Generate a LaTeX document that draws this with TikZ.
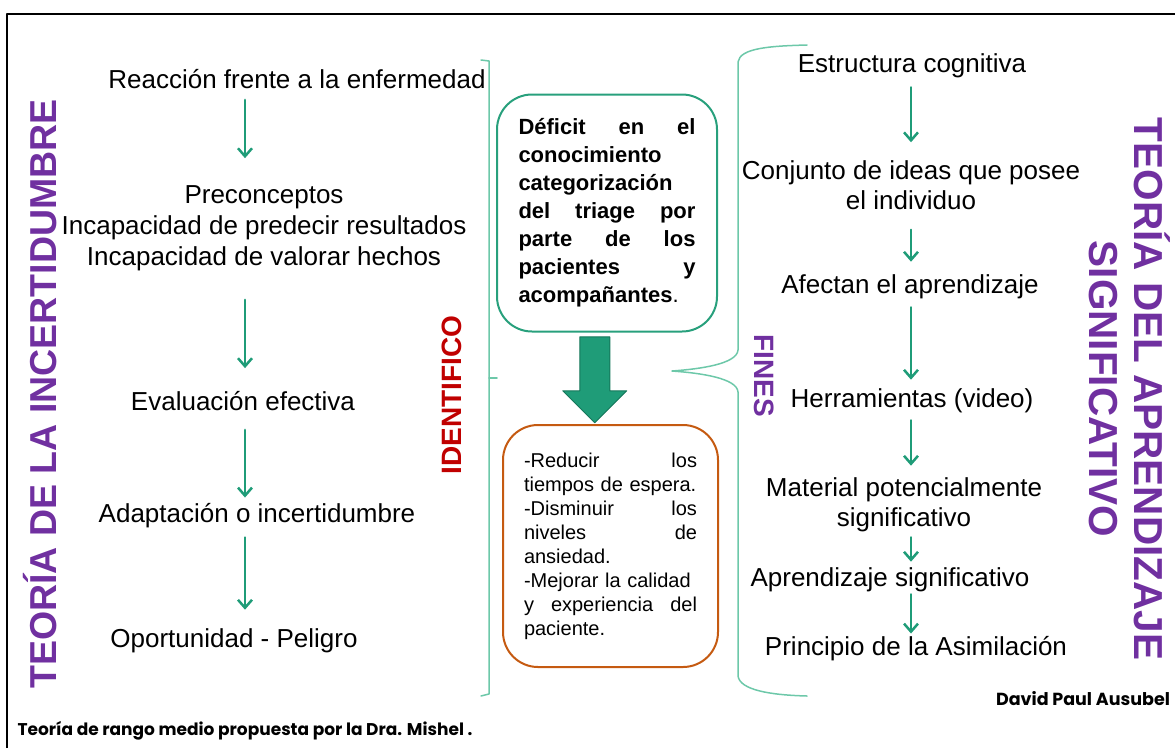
\documentclass[tikz,border=0pt]{standalone}
\usepackage{fontspec}
\setmainfont{Liberation Sans}
\newfontfamily\firma{Poppins}
\usepackage{tikz}
\usetikzlibrary{arrows.meta}
\usetikzlibrary{shapes.arrows}
\usetikzlibrary{calc}
\definecolor{morado}{HTML}{7030A0}
\definecolor{rojo}{HTML}{C00000}
\definecolor{verdeF}{HTML}{1F9C78}
\definecolor{verdeC}{HTML}{6DC8A9}
\definecolor{verdeB}{HTML}{28A07C}
\definecolor{verdeD}{HTML}{15775A}
\definecolor{naranja}{HTML}{C55A11}
\newcommand{\linea}[1]{\makebox[\linewidth][l]{#1}}

\begin{document}
\begin{tikzpicture}[line cap=round,line join=round,>={Straight Barb[length=8pt,width=14pt]},x=1pt,y=-1pt,
  texto/.style={inner sep=0pt,font=\fontsize{26}{31}\selectfont,align=center},
  textoR/.style={inner sep=0pt,font=\fontsize{26}{30}\selectfont,align=center},
  flecha/.style={->,color=verdeF,line width=2.5pt},
  titulo/.style={inner sep=0pt,font=\fontsize{37.5}{45}\selectfont\bfseries,color=morado,align=center},
  etiqueta/.style={inner sep=0pt,font=\fontsize{28}{30}\selectfont\bfseries},
  llave/.style={color=verdeC,line width=1.5pt}]

\useasboundingbox (0,0) rectangle (1175,748);
\draw[line width=2.5pt,line cap=butt] (7,748) -- (7,14) -- (1175,14);

% teoria de la incertidumbre
\node[titulo,rotate=90] (tit1) at (40,394) {TEORÍA DE LA INCERTIDUMBRE};
\coordinate (colL) at (245,0);
\node[texto] (l1) at (297,79) {Reacción frente a la enfermedad};
\node[texto] (l2) at (264,228) {Preconceptos\\Incapacidad de predecir resultados\\Incapacidad de valorar hechos};
\node[texto] (l3) at (243,401) {Evaluación efectiva};
\node[texto] (l4) at (257,516) {Adaptación o incertidumbre};
\node[texto] (l5) at (234,641) {Oportunidad - Peligro};
\draw[flecha,shorten <=11pt,shorten >=27pt] (l1.south -| colL) -- (l2.north -| colL);
\draw[flecha,shorten <=29pt,shorten >=23pt] (l2.south -| colL) -- (l3.north -| colL);
\draw[flecha,shorten <=19pt,shorten >=6pt] (l3.south -| colL) -- (l4.north -| colL);
\draw[flecha,shorten <=9pt,shorten >=19pt] (l4.south -| colL) -- (l5.north -| colL);

\node[etiqueta,rotate=90,color=rojo] (ident) at (452,395) {IDENTIFICO};
\draw[llave] (481,60) -- (489,61) -- (489,694) -- (481,696);
\draw[llave] (489,378) -- (497,378);

% centro
\node[draw=verdeB,line width=2pt,rounded corners=35pt,minimum width=220pt,minimum height=237pt,
  inner sep=0pt,text width=177pt,align=left,font=\fontsize{22}{28}\selectfont\bfseries] (def) at (607,213)
  {\linea{Déficit\hfill en\hfill el}\\
   conocimiento\\
   categorización\\
   \linea{del\hfill triage\hfill por}\\
   \linea{parte\hfill de\hfill los}\\
   \linea{pacientes\hfill y}\\
   acompañantes\mdseries.};
\node[draw=naranja,line width=2pt,rounded corners=35pt,minimum width=215pt,minimum height=242pt,
  inner sep=0pt,text width=173pt,align=left,font=\fontsize{20}{24}\selectfont] (fin) at (610.5,546)
  {\linea{-Reducir\hfill los}\\
   tiempos de espera.\\
   \linea{-Disminuir\hfill los}\\
   \linea{niveles\hfill de}\\
   ansiedad.\\
   -Mejorar la calidad\\
   \linea{y\hfill experiencia\hfill del}\\
   paciente.};
\node[single arrow,fill=verdeF,draw=verdeD,line width=1pt,minimum height=86pt,
  single arrow head extend=17pt,shape border rotate=270,inner sep=14.5pt] (flechaG)
  at ($(def.south)!0.5!(fin.north)+(-14,-6)$) {};

% teoria del aprendizaje significativo
\draw[llave] (807,45) .. controls (770,46) and (740,48) .. (738,62) -- (738,350)
  .. controls (737,364) and (700,369) .. (672,371)
  .. controls (700,373) and (737,378) .. (738,392) -- (738,676)
  .. controls (740,690) and (770,695) .. (807,696);
\node[etiqueta,rotate=-90,color=morado] (fines) at (764,376) {FINES};
\coordinate (colR) at (911,0);
\node[textoR] (r1) at (912,66) {Estructura cognitiva};
\node[textoR] (r2) at (911,185) {Conjunto de ideas que posee\\el individuo};
\node[textoR] (r3) at (910,287) {Afectan el aprendizaje};
\node[textoR] (r4) at (912,401) {Herramientas (video)};
\node[textoR] (r5) at (904,505) {Material potencialmente\\significativo};
\node[textoR] (r6) at (890,580) {Aprendizaje significativo};
\node[textoR] (r7) at (916,649) {Principio de la Asimilación};
\draw[flecha,shorten <=9pt,shorten >=18pt] (r1.south -| colR) -- (r2.north -| colR);
\draw[flecha,shorten <=20pt,shorten >=13pt] (r2.south -| colR) -- (r3.north -| colR);
\draw[flecha,shorten <=8pt,shorten >=9pt] (r3.south -| colR) -- (r4.north -| colR);
\draw[flecha,shorten <=7pt,shorten >=12pt] (r4.south -| colR) -- (r5.north -| colR);
\draw[flecha,shorten <=5pt,shorten >=6pt] (r5.south -| colR) -- (r6.north -| colR);
\draw[flecha,shorten <=2pt,shorten >=3pt] (r6.south -| colR) -- (r7.north -| colR);
\node[titulo,rotate=-90,font=\fontsize{40.5}{45}\selectfont\bfseries] (tit2) at (1130,389) {TEORÍA DEL APRENDIZAJE\\SIGNIFICATIVO};

\node[inner sep=0pt,font=\firma\fontsize{17}{19}\selectfont\bfseries] (mishel) at (245,731) {Teoría de rango medio propuesta por la Dra. Mishel .};
\node[inner sep=0pt,font=\firma\fontsize{17.5}{19}\selectfont\bfseries] (ausubel) at (1083,699) {David Paul Ausubel};
\end{tikzpicture}
\end{document}
